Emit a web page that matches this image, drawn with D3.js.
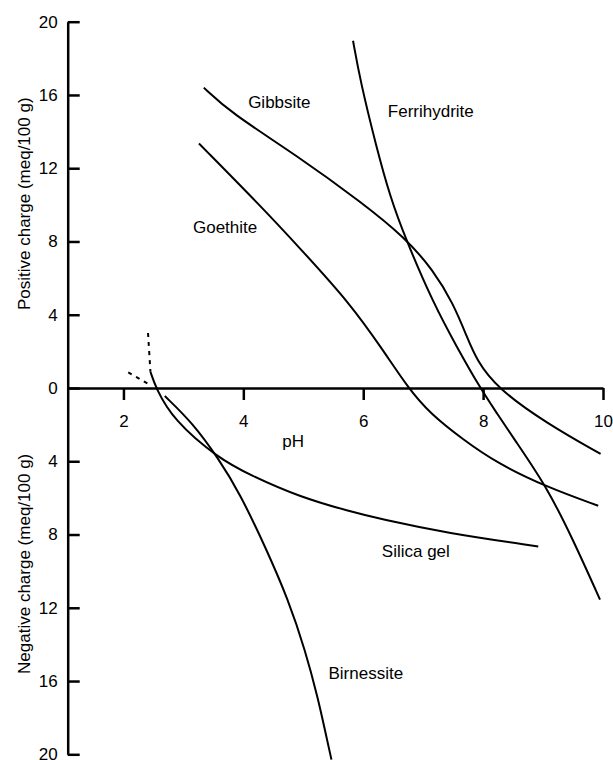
<!DOCTYPE html>
<html>
<head>
<meta charset="utf-8">
<script src="https://cdn.jsdelivr.net/npm/d3@7"></script>
<style>
  body { margin: 0; background: #fff; }
  svg text { font-family: "Liberation Sans", Arial, sans-serif; font-size: 17px; fill: #000; }
</style>
</head>
<body>
<div id="chart"></div>
<script>
// points: [pH, charge], negative charge below the axis
var gibbsite = [[3.34,16.4],[3.78,15.05],[4.89,12.7],[6.0,10.07],[6.70,8.2],[7.17,6.43],[7.50,4.62],[7.73,2.8],[7.89,1.53],[8.23,0],[9.06,-1.93],[9.96,-3.6]];
var ferrihydrite = [[5.83,18.96],[5.95,16.78],[6.22,13.15],[6.45,10.43],[6.70,8.2],[7.17,4.62],[7.56,2.25],[7.95,0],[8.23,-1.38],[8.50,-2.7],[9.06,-5.38],[9.5,-8.28],[9.95,-11.55]];
var goethite = [[3.26,13.35],[4.33,9.8],[4.95,7.61],[5.78,4.62],[6.33,2.07],[6.75,0],[7.11,-1.38],[7.67,-2.83],[8.23,-4.1],[9.06,-5.41],[9.92,-6.43]];
var silicaGel = [[2.45,0.89],[2.54,0],[2.83,-1.74],[3.58,-3.83],[4.11,-4.75],[4.94,-5.95],[5.78,-6.74],[6.28,-7.15],[7.39,-7.92],[8.92,-8.65]];
var birnessite = [[2.69,-0.44],[3.16,-1.93],[3.58,-3.83],[3.94,-5.74],[4.39,-8.84],[4.75,-11.57],[5.03,-14.29],[5.25,-17.0],[5.36,-18.66],[5.47,-20.29]];
// dotted extensions near pH 2.5
var silicaGelDash = [[2.41,3.0],[2.43,1.96],[2.45,0.89]];
var birnessiteDash = [[2.08,0.85],[2.47,0.12]];

var xTicks = [2, 4, 6, 8, 10];
var yTicks = [-20, -16, -12, -8, -4, 0, 4, 8, 12, 16, 20];

// curve names with where they are written [pH, charge]
var curveNames = ["Gibbsite", "Ferrihydrite", "Goethite", "Silica gel", "Birnessite"];
var namePos = [[4.08,15.3],[6.41,14.8],[3.16,8.45],[6.31,-9.24],[5.42,-15.9]];

var width = 613, height = 760;

var svg = d3.select("#chart").append("svg")
  .attr("width", width)
  .attr("height", height);

var x = d3.scaleLinear().domain([1.07, 10]).range([67.7, 603]);
var y = d3.scaleLinear().domain([-20, 20]).range([754.3, 21.7]);

// x axis sits on charge = 0
svg.append("g")
  .attr("transform", "translate(0," + y(0) + ")")
  .call(d3.axisBottom(x).tickValues(xTicks).tickSizeInner(12).tickSizeOuter(0).tickPadding(14.5));

svg.append("g")
  .attr("transform", "translate(" + x(1.07) + ",0)")
  .call(d3.axisLeft(y).tickValues(yTicks).tickSizeInner(-12).tickSizeOuter(0).tickPadding(10)
    .tickFormat(function(d){ return Math.abs(d); }));

svg.selectAll(".domain, .tick line")
  .attr("stroke", "#000")
  .attr("stroke-width", 2.5);
svg.selectAll(".tick text")
  .attr("font-family", null)
  .attr("font-size", null);

var line = d3.line()
  .x(function(d){ return x(d[0]); })
  .y(function(d){ return y(d[1]); })
  .curve(d3.curveBasis);

[gibbsite, ferrihydrite, goethite, silicaGel, birnessite].forEach(function(s){
  svg.append("path")
    .attr("d", line(s))
    .attr("fill", "none")
    .attr("stroke", "#000")
    .attr("stroke-width", 2);
});

[silicaGelDash, birnessiteDash].forEach(function(s){
  svg.append("path")
    .attr("d", line(s))
    .attr("fill", "none")
    .attr("stroke", "#000")
    .attr("stroke-width", 2)
    .attr("stroke-dasharray", "4,5");
});

svg.selectAll(".curve-name")
  .data(curveNames)
  .enter().append("text")
  .attr("class", "curve-name")
  .attr("x", function(d, i){ return x(namePos[i][0]); })
  .attr("y", function(d, i){ return y(namePos[i][1]); })
  .text(function(d){ return d; });

svg.append("text")
  .attr("x", x(4.65))
  .attr("y", y(-3.2))
  .text("pH");

svg.append("text")
  .attr("transform", "translate(29.5," + y(10.06) + ") rotate(-90)")
  .attr("text-anchor", "middle")
  .text("Positive charge (meq/100 g)");

svg.append("text")
  .attr("transform", "translate(29.5," + y(-9.6) + ") rotate(-90)")
  .attr("text-anchor", "middle")
  .text("Negative charge (meq/100 g)");
</script>
</body>
</html>
